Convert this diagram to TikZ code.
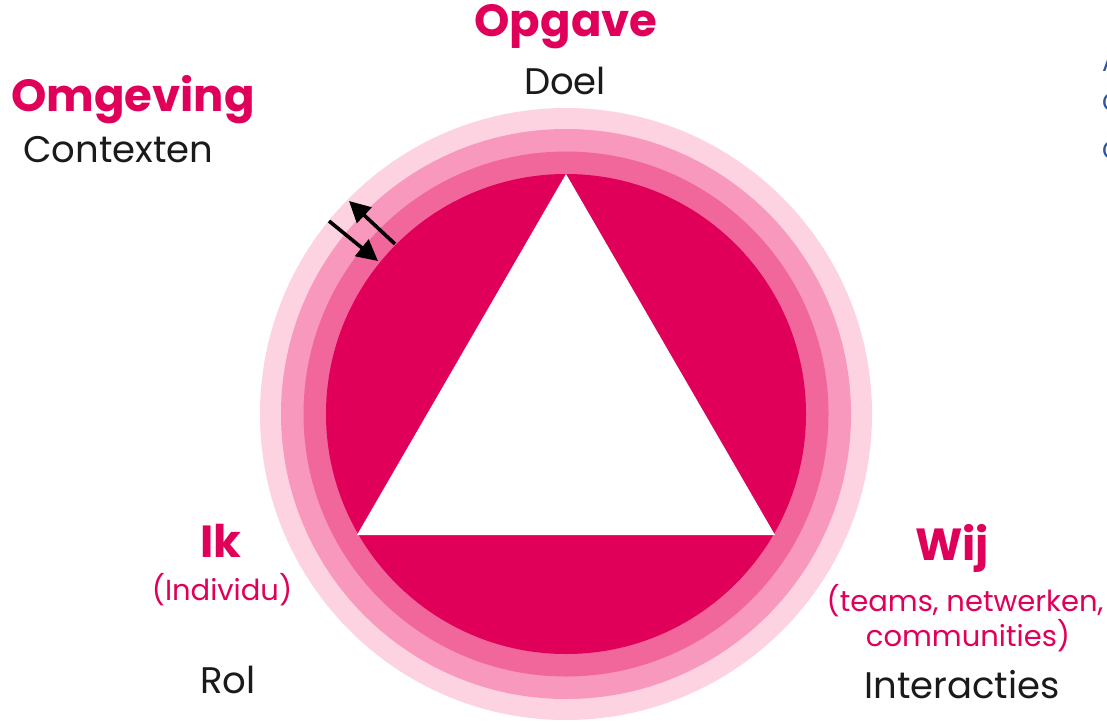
\documentclass[tikz,border=0pt]{standalone}
\usepackage{fontspec}
\setmainfont{Poppins}
\usetikzlibrary{arrows.meta}
\definecolor{ringA}{HTML}{FDD3E2}
\definecolor{ringB}{HTML}{F898BC}
\definecolor{ringC}{HTML}{F2679B}
\definecolor{core}{HTML}{E0005A}
\definecolor{pinktext}{HTML}{E0005A}
\definecolor{darktext}{HTML}{1A1A1A}
\definecolor{bluetext}{HTML}{2B55A5}
\tikzset{
  lbl/.style={inner sep=0pt, anchor=base},
  heading/.style={lbl, text=pinktext, font=\fontsize{45}{54}\selectfont\bfseries},
  plain/.style={lbl, text=darktext, font=\fontsize{37}{44}\selectfont},
  sub/.style={lbl, text=pinktext, font=\fontsize{29}{35}\selectfont},
  cut/.style={inner sep=0pt, anchor=base west, text=bluetext, font=\fontsize{26}{31}\selectfont},
  arr/.style={line width=3.6pt, -{Triangle[length=21pt,width=21pt]}}
}
\begin{document}
\begin{tikzpicture}[x=1pt,y=-1pt]
\useasboundingbox[fill=white] (0,0) rectangle (1107,722);
\coordinate (C) at (566,414);
\fill[ringA] (C) circle[radius=306pt];
\fill[ringB] (C) circle[radius=285pt];
\fill[ringC] (C) circle[radius=262.5pt];
\fill[core] (C) circle[radius=240pt];
\coordinate (T1) at (566,174);
\coordinate (T2) at (357,535);
\coordinate (T3) at (775,535);
\fill[white] (T1) -- (T2) -- (T3) -- cycle;
% arrows
\coordinate (a1s) at (395,244);
\coordinate (a1e) at (349,201);
\coordinate (a2s) at (329,221);
\coordinate (a2e) at (378,261);
\draw[arr] (a1s) -- (a1e);
\draw[arr] (a2s) -- (a2e);
% labels
\node[heading] (opgave) at (566,37) {Opgave};
\node[plain] (doel) at (565,95) {Doel};
\node[heading, anchor=base west] (omgeving) at (11,112) {Omgeving};
\node[plain, anchor=base west] (contexten) at (23,163) {Contexten};
\node[heading] (ik) at (221,557) {Ik};
\node[sub] (individu) at (222,600) {(Individu)};
\node[plain] (rol) at (228,693) {Rol};
\node[heading] (wij) at (952,560) {Wij};
\node[sub] (teams) at (965,611) {(teams, netwerken,};
\node[sub] (comm) at (968,646) {communities)};
\node[plain] (inter) at (962,698) {Interacties};
% text cut at the right edge, as in the reference
\node[cut] (cutA) at (1102,72) {A};
\node[cut] (cutB) at (1102,112) {C};
\node[cut] (cutC) at (1102,160) {C};
\end{tikzpicture}
\end{document}
